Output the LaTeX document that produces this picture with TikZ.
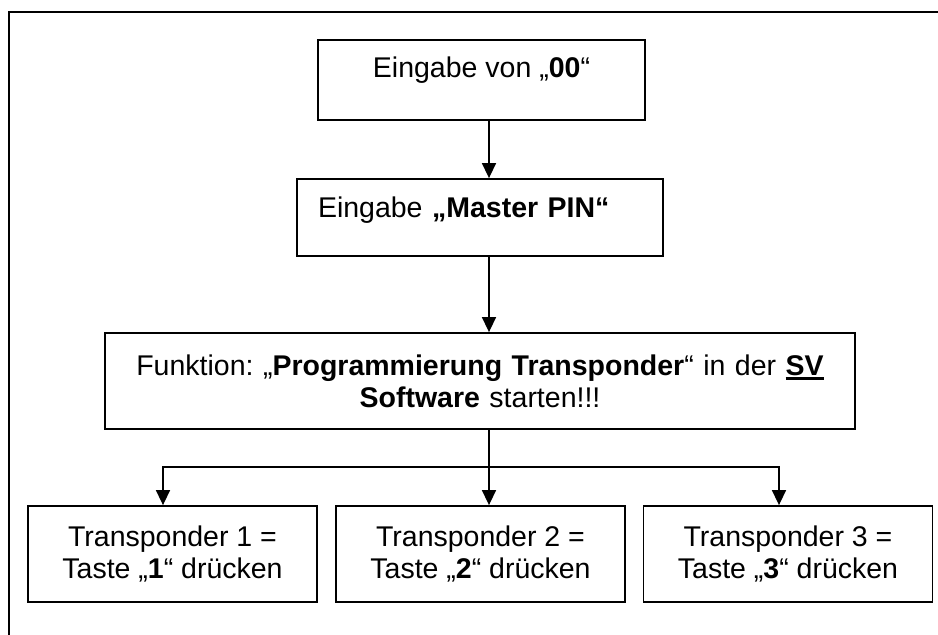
\documentclass[tikz,border=0pt]{standalone}
\usepackage{fontspec}
\setmainfont{Liberation Sans}
\usepackage{tikz}
\usetikzlibrary{arrows.meta}

\newcommand\dickunter[1]{\setbox0\hbox{#1}\rlap{\rule[-4.5pt]{\wd0}{2.6pt}}\box0}

\tikzset{
  kasten/.style={draw,line width=1.8pt,inner sep=0pt,align=center,
    font=\fontsize{28.5}{32}\selectfont\frenchspacing},
  pfeil/.style={line width=1.5pt,-{Triangle[length=15pt,width=14pt]}}
}

\begin{document}
\begin{tikzpicture}[x=1pt,y=-1pt]
    \useasboundingbox (0,0) rectangle (938,635);
    \draw[line width=1.8pt] (9,635) -- (9,12) -- (938,12);

    \node[kasten,minimum width=327,minimum height=80] (1) at (481.5,80) {Eingabe von „\textbf{00}“\\[-7pt] ~};
    \node[kasten,minimum width=366,minimum height=77,text width=324,align=left] (2) at (480,217.5)
      {Eingabe \textbf{„Master PIN“}\\[-12pt] ~};
    \node[kasten,minimum width=750,minimum height=96,text width=740] (3) at (480,381)
      {Funktion: „\textbf{Programmierung Transponder}“ in der \textbf{\dickunter{SV}}\\
       \textbf{Software} starten!!!};
    \node[kasten,minimum width=289,minimum height=96] (4) at (172.5,554) {Transponder 1 =\\ Taste „\textbf{1}“ drücken};
    \node[kasten,minimum width=289,minimum height=96] (5) at (480.5,554) {Transponder 2 =\\ Taste „\textbf{2}“ drücken};
    \node[kasten,minimum width=289,minimum height=96] (6) at (788,554) {Transponder 3 =\\ Taste „\textbf{3}“ drücken};

    \coordinate (mitte) at (489,0);
    \coordinate (links) at (163,0);
    \coordinate (rechts) at (779,0);
    \coordinate (split) at (489,467);

    \draw[pfeil] (1.south -| mitte) -- (2.north -| mitte);
    \draw[pfeil] (2.south -| mitte) -- (3.north -| mitte);
    \draw[line width=1.5pt] (3.south -| mitte) -- (split);
    \draw[pfeil] (split) -- (5.north -| mitte);
    \draw[pfeil] (split) -| (4.north -| links);
    \draw[pfeil] (split) -| (6.north -| rechts);
  \end{tikzpicture}
\end{document}
